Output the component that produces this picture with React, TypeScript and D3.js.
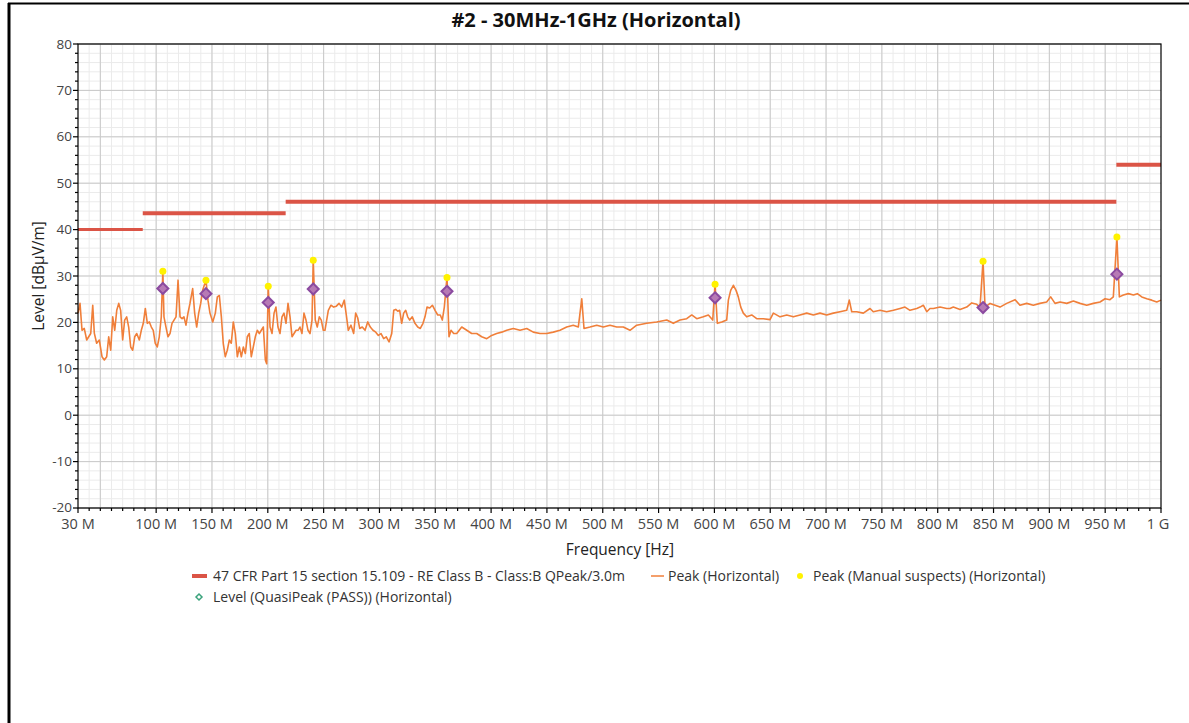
import React from "react";
import * as d3 from "d3";

// ---- Data ----
const title = "#2 - 30MHz-1GHz (Horizontal)";

const peakFreq = [
  30, 31.8, 33.6, 35.6, 37.8, 39.6, 41.4, 43.2, 44.6, 46.7, 49.1, 51.5, 53.6, 55.7, 57.5, 59.3, 61.1, 62.9, 64.7, 66.5,
  68.2, 70.0, 71.8, 73.6, 75.4, 77.2, 79.0, 80.8, 82.6, 84.9, 86.7, 88.5, 90.3, 92.1, 93.9, 95.7, 97.4, 99.2, 101.0, 102.8,
  104.6, 106.0, 107.0, 108.8, 110.6, 112.4, 114.2, 116.0, 117.8, 119.6, 121.4, 123.2, 124.9, 126.7, 128.5, 130.3, 132.7, 134.5, 136.3, 138.1,
  139.9, 141.7, 144.6, 146.4, 148.2, 150.7, 153.0, 154.8, 156.6, 158.4, 160.1, 161.9, 163.7, 165.5, 167.3, 169.1, 170.9, 172.7, 174.5, 176.3,
  178.1, 179.9, 181.6, 183.4, 185.2, 187.0, 188.8, 190.6, 192.4, 194.2, 196.0, 197.8, 199.0, 200.4, 202.0, 203.8, 205.6, 207.3, 209.1, 210.9,
  212.7, 214.5, 216.3, 218.1, 219.9, 221.7, 223.5, 225.3, 227.1, 228.8, 230.6, 232.4, 234.2, 236.0, 237.8, 239.6, 240.7, 242.5, 244.3, 246.1,
  247.9, 249.7, 251.2, 254.2, 256.6, 259.0, 261.4, 263.8, 266.2, 268.5, 270.3, 272.1, 274.5, 276.9, 278.7, 280.5, 282.3, 284.6, 287.1, 289.5,
  291.8, 294.2, 296.7, 299.0, 301.4, 303.8, 306.1, 308.6, 311.0, 312.8, 314.6, 316.4, 318.1, 319.9, 321.7, 323.5, 325.3, 327.1, 329.4, 331.8,
  334.3, 336.6, 339.0, 340.8, 342.6, 345.0, 347.4, 349.8, 352.2, 354.5, 356.3, 358.1, 360.5, 362.3, 364.1, 366.5, 369.2, 373.7, 378.2, 382.6,
  387.1, 391.6, 396.1, 400.5, 405.0, 409.5, 414.0, 419.9, 425.9, 431.9, 437.8, 443.8, 449.8, 455.7, 461.7, 467.7, 473.6, 478.1, 481.2, 483.2,
  488.6, 494.6, 500.5, 506.5, 512.5, 518.4, 524.4, 530.4, 539.4, 548.3, 557.3, 563.2, 569.2, 575.2, 579.7, 584.2, 590.1, 594.6, 598.5, 600.6,
  602.6, 606.6, 611.0, 612.5, 614.6, 617.0, 619.4, 621.4, 623.6, 625.9, 628.9, 633.4, 637.9, 643.8, 649.8, 652.8, 658.8, 664.8, 670.7, 676.7,
  682.7, 688.6, 694.6, 700.6, 706.5, 712.5, 718.5, 720.8, 723.0, 727.4, 733.4, 739.4, 742.3, 748.4, 754.3, 760.3, 766.3, 770.7, 775.2, 781.2,
  784.2, 787.1, 790.2, 793.1, 796.1, 802.1, 808.1, 811.0, 814.0, 820.0, 826.0, 830.5, 834.9, 837.9, 840.6, 842.4, 846.9, 851.4, 855.8, 861.8,
  869.3, 873.7, 879.7, 885.6, 891.6, 897.6, 901.2, 905.1, 909.6, 915.6, 921.5, 927.5, 933.5, 939.4, 945.4, 949.9, 954.3, 957.3, 960.5, 962.7,
  966.3, 970.8, 975.3, 978.8, 982.8, 987.3, 991.7, 996.2, 1000,
];

const peakLevel = [
  22.0, 24.1, 18.3, 18.7, 16.2, 16.9, 17.6, 23.7, 17.7, 15.5, 16.2, 12.6, 11.9, 12.6, 16.9, 14.0, 21.2, 18.3, 22.6, 24.1,
  22.6, 16.2, 20.5, 21.2, 19.0, 14.7, 14.0, 16.9, 17.6, 16.2, 18.3, 19.8, 23.0, 19.8, 20.1, 19.0, 18.3, 15.5, 14.7, 16.9,
  21.2, 31.0, 21.2, 19.0, 16.9, 17.6, 19.8, 20.5, 21.2, 29.1, 21.2, 20.8, 21.2, 19.4, 22.0, 24.1, 27.3, 22.0, 19.0, 22.0,
  24.1, 27.0, 29.1, 24.8, 22.0, 20.1, 22.0, 25.5, 25.8, 21.2, 15.5, 12.6, 14.0, 16.2, 15.5, 20.1, 17.6, 12.6, 14.7, 12.6,
  14.7, 13.3, 16.9, 17.6, 12.6, 14.7, 16.9, 18.3, 17.6, 18.3, 19.0, 11.9, 11.1, 27.8, 19.0, 17.6, 22.0, 23.3, 19.0, 17.6,
  21.2, 22.0, 19.8, 24.1, 21.2, 16.9, 17.6, 18.3, 18.3, 19.0, 17.6, 22.0, 20.5, 18.3, 17.6, 20.5, 33.4, 20.5, 19.0, 21.2,
  20.5, 18.3, 18.3, 22.6, 23.7, 23.3, 23.5, 24.1, 23.3, 24.8, 21.6, 18.3, 19.4, 17.6, 22.0, 21.0, 18.7, 19.0, 18.3, 20.1,
  19.0, 18.3, 17.9, 17.2, 17.6, 16.5, 16.9, 15.8, 17.6, 22.6, 22.8, 22.4, 22.6, 19.8, 22.0, 22.6, 21.2, 20.5, 21.2, 19.8,
  19.0, 18.7, 19.8, 21.2, 23.3, 23.1, 23.7, 22.6, 21.6, 21.6, 20.5, 23.3, 29.8, 16.9, 18.3, 17.6, 17.6, 19.0, 18.3, 17.6,
  17.6, 16.9, 16.5, 17.2, 17.6, 17.9, 18.3, 18.7, 18.3, 18.7, 17.9, 17.6, 17.6, 17.9, 18.3, 19.0, 19.4, 19.0, 25.1, 18.7,
  19.0, 19.4, 19.0, 19.4, 19.0, 19.0, 18.3, 19.4, 19.8, 20.1, 20.5, 19.8, 20.5, 20.8, 21.6, 20.8, 21.2, 21.6, 20.5, 28.2,
  19.8, 20.1, 20.5, 24.8, 26.9, 28.0, 26.9, 25.5, 23.3, 22.0, 21.2, 21.6, 20.8, 20.8, 20.6, 22.0, 21.2, 21.6, 21.2, 21.6,
  22.0, 21.6, 22.0, 21.6, 22.0, 22.3, 22.6, 24.8, 22.3, 22.3, 22.0, 23.0, 22.3, 22.6, 22.3, 22.6, 23.0, 23.3, 22.6, 23.0,
  23.3, 23.7, 22.3, 23.0, 23.0, 23.3, 23.0, 23.0, 23.3, 22.8, 23.3, 24.2, 23.9, 23.3, 33.2, 23.3, 24.1, 23.7, 23.3, 24.1,
  24.9, 23.7, 24.1, 23.7, 24.1, 24.4, 25.5, 24.1, 24.4, 24.1, 24.6, 24.1, 23.7, 24.1, 24.4, 25.1, 24.9, 25.5, 38.4, 25.5,
  25.9, 26.2, 25.9, 26.2, 25.5, 25.1, 24.8, 24.4, 24.8,
];

const limitStart = [30, 88, 216, 960];
const limitEnd = [88, 216, 960, 1000];
const limitLevel = [40, 43.5, 46, 54];

const suspectFreq = [106.0, 144.6, 200.4, 240.7, 360.5, 600.6, 840.6, 960.5];
const suspectLevel = [31.0, 29.1, 27.8, 33.4, 29.7, 28.2, 33.2, 38.4];
const qpLevel = [27.3, 26.2, 24.3, 27.2, 26.7, 25.3, 23.2, 30.4];

const xTickValues = [30, 100, 150, 200, 250, 300, 350, 400, 450, 500, 550, 600, 650, 700, 750, 800, 850, 900, 950, 1000];
const xTickLabels = ["30 M", "100 M", "150 M", "200 M", "250 M", "300 M", "350 M", "400 M", "450 M", "500 M", "550 M", "600 M", "650 M", "700 M", "750 M", "800 M", "850 M", "900 M", "950 M", "1 G"];
const yTickValues = [-20, -10, 0, 10, 20, 30, 40, 50, 60, 70, 80];

const legendLimit = "47 CFR Part 15 section 15.109 - RE Class B - Class:B QPeak/3.0m";
const legendPeak = "Peak (Horizontal)";
const legendSuspect = "Peak (Manual suspects) (Horizontal)";
const legendQP = "Level (QuasiPeak (PASS)) (Horizontal)";

// ---- Layout ----
const W = 1189;
const H = 723;
const L = 78, R = 1161, T = 44, B = 508;
const FONT = "'Open Sans', 'Noto Sans', sans-serif";
const ORANGE = "#f07f3a";
const RED = "#db5446";
const YELLOW = "#fff200";

export default function App() {
  const x = d3.scaleLinear().domain([30, 1000]).range([L, R]);
  const y = d3.scaleLinear().domain([-20, 80]).range([B, T]);

  const minorX = d3.range(40, 1000, 10);
  const majorGridX = d3.range(50, 1000, 50);
  const minorY = d3.range(-20, 81, 2);

  const pts: [number, number][] = peakFreq.map((f, i) => [f, peakLevel[i]]);
  const line = d3.line<[number, number]>().x((d) => x(d[0])).y((d) => y(d[1]));

  const diamond = (cx: number, cy: number, r: number) =>
    `M${cx},${cy - r}L${cx + r},${cy}L${cx},${cy + r}L${cx - r},${cy}Z`;

  return (
    <svg
      width={W}
      height={H}
      style={{ position: "absolute", left: 0, top: 0, background: "#fff" }}
      fontFamily={FONT}
    >
      {/* outer frame */}
      <line x1={9} y1={3} x2={9} y2={H} stroke="#000" strokeWidth={3} />
      <line x1={8} y1={3.5} x2={W} y2={3.5} stroke="#000" strokeWidth={2} />

      {/* title */}
      <text x={596} y={27} textAnchor="middle" fontSize={20} fontWeight="bold" fill="#111">
        {title}
      </text>

      {/* minor grid */}
      {minorX.map((v) => (
        <line key={"mx" + v} x1={x(v)} x2={x(v)} y1={T} y2={B} stroke="#ebebeb" strokeWidth={1} />
      ))}
      {minorY.map((v) => (
        <line key={"my" + v} x1={L} x2={R} y1={y(v)} y2={y(v)} stroke="#ebebeb" strokeWidth={1} />
      ))}
      {/* major grid */}
      {majorGridX.map((v) => (
        <line key={"Mx" + v} x1={x(v)} x2={x(v)} y1={T} y2={B} stroke="#c9c9c9" strokeWidth={1} />
      ))}
      {yTickValues.map((v) => (
        <line key={"My" + v} x1={L} x2={R} y1={y(v)} y2={y(v)} stroke="#c9c9c9" strokeWidth={1} />
      ))}

      {/* limit lines */}
      {limitStart.map((s, i) => (
        <line
          key={"lim" + i}
          x1={x(s)}
          x2={x(limitEnd[i])}
          y1={y(limitLevel[i])}
          y2={y(limitLevel[i])}
          stroke={RED}
          strokeWidth={i === 0 ? 3 : 4}
        />
      ))}

      {/* peak trace */}
      <path d={line(pts) || ""} fill="none" stroke={ORANGE} strokeWidth={1.6} strokeLinejoin="round" />

      {/* QP diamonds */}
      {suspectFreq.map((f, i) => (
        <path
          key={"qp" + i}
          d={diamond(x(f), y(qpLevel[i]), 5.5)}
          fill="#b77ab5"
          stroke="#8b4aa0"
          strokeWidth={2}
        />
      ))}
      {/* suspects */}
      {suspectFreq.map((f, i) => (
        <circle key={"s" + i} cx={x(f)} cy={y(suspectLevel[i])} r={3.5} fill={YELLOW} />
      ))}

      {/* plot frame */}
      <rect x={L} y={T} width={R - L} height={B - T} fill="none" stroke="#000" strokeWidth={1.2} />

      {/* y axis ticks */}
      {minorY.map((v) => (
        <line key={"yt" + v} x1={L - (v % 10 === 0 ? 5 : 3)} x2={L} y1={y(v)} y2={y(v)} stroke="#000" strokeWidth={1.2} />
      ))}
      {yTickValues.map((v) => (
        <text key={"yl" + v} x={L - 6} y={y(v) + (v === -20 ? 3.5 : 4.5)} textAnchor="end" fontSize={13.5} fill="#444">
          {v}
        </text>
      ))}
      {/* x axis ticks */}
      {d3.range(30, 1001, 10).map((v) => (
        <line
          key={"xt" + v}
          x1={x(v)}
          x2={x(v)}
          y1={B}
          y2={B + (xTickValues.includes(v) ? 5 : 3)}
          stroke="#000"
          strokeWidth={1.2}
        />
      ))}
      {xTickValues.map((v, i) => (
        <text key={"xl" + v} x={x(v) - (i === 19 ? 3 : 0)} y={B + 21} textAnchor="middle" fontSize={14.5} fill="#444">
          {xTickLabels[i]}
        </text>
      ))}

      {/* axis titles */}
      <text x={620} y={555} textAnchor="middle" fontSize={15.5} fill="#222">
        Frequency [Hz]
      </text>
      <text
        transform={`translate(44,${(T + B) / 2}) rotate(-90)`}
        textAnchor="middle"
        fontSize={15.5}
        fill="#222"
      >
        Level [dBμV/m]
      </text>

      {/* legend */}
      <rect x={192} y={574} width={15} height={4} fill={RED} />
      <text x={213} y={581} fontSize={14} fill="#333">{legendLimit}</text>
      <line x1={651} x2={664} y1={576} y2={576} stroke={ORANGE} strokeWidth={1.5} />
      <text x={668} y={581} fontSize={14} fill="#333">{legendPeak}</text>
      <circle cx={800} cy={576} r={3} fill={YELLOW} />
      <text x={813} y={581} fontSize={14} fill="#333">{legendSuspect}</text>
      <path d={diamond(199, 597, 3)} fill="none" stroke="#3aa37c" strokeWidth={1.5} />
      <text x={213} y={602} fontSize={14} fill="#333">{legendQP}</text>
    </svg>
  );
}
